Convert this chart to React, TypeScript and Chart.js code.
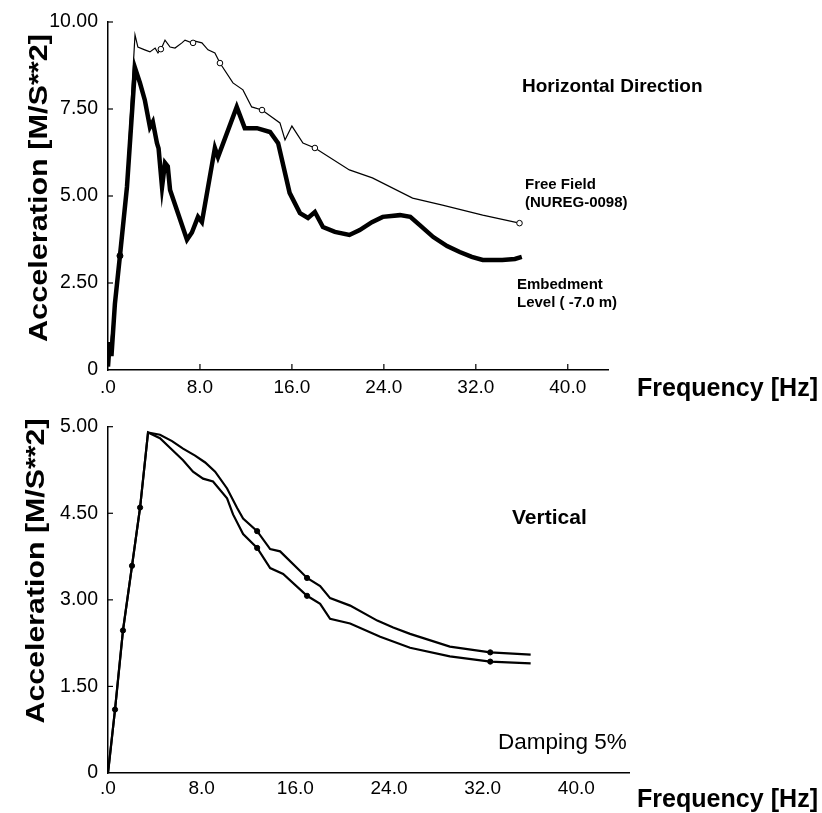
import React, { useEffect, useRef } from "react";
import { Chart, registerables } from "chart.js";

Chart.register(...registerables);

// ---------- tick definitions ----------
const xTicks = [0, 8, 16, 24, 32, 40];
const xTickLabels = [".0", "8.0", "16.0", "24.0", "32.0", "40.0"];
const topYTicks = [0, 2.5, 5, 7.5, 10];
const topYTickLabels = ["0", "2.50", "5.00", "7.50", "10.00"];
const bottomYTicks = [0, 1.5, 3, 4.5, 6];
const bottomYTickLabels = ["0", "1.50", "3.00", "4.50", "5.00"];

// ---------- top chart: horizontal direction ----------
const freeFieldHz = [0, 0.6, 1.04, 1.6, 2.35, 2.6, 3.2, 3.65, 4.1, 4.35, 4.7, 4.96, 5.4, 5.83, 6.43, 6.7, 7.3, 7.57, 8.17, 8.7, 9.3, 9.74, 10.87, 11.74, 12.5, 13.4, 14.96, 15.4, 16.0, 16.96, 18.0, 21.0, 23.0, 26.5, 29.1, 32.6, 35.8];
const freeFieldAcc = [0.1, 1.9, 3.28, 5.3, 9.63, 9.28, 9.2, 9.14, 9.25, 9.11, 9.28, 9.48, 9.28, 9.25, 9.4, 9.48, 9.4, 9.45, 9.4, 9.2, 9.11, 8.82, 8.25, 8.05, 7.56, 7.47, 7.1, 6.61, 7.01, 6.52, 6.38, 5.75, 5.52, 4.94, 4.74, 4.45, 4.22];
const freeFieldMarkHz = [4.6, 7.4, 9.74, 13.4, 18.0, 35.8];
const freeFieldMarkAcc = [9.22, 9.4, 8.82, 7.47, 6.38, 4.22];

const embedHz = [0, 0.15, 0.3, 0.6, 1.04, 1.65, 2.35, 2.78, 3.2, 3.65, 3.9, 4.26, 4.4, 4.7, 4.96, 5.2, 5.4, 6.87, 7.3, 7.83, 8.17, 9.3, 9.57, 11.2, 11.9, 12.96, 14.1, 14.8, 15.8, 16.7, 17.4, 18.0, 18.7, 19.74, 21.0, 21.9, 22.96, 23.9, 25.4, 26.3, 27.1, 28.3, 29.5, 30.6, 31.65, 32.6, 34.3, 35.4, 36.0];
const embedAcc = [0.1, 0.8, 0.4, 1.9, 3.28, 5.26, 8.68, 8.25, 7.76, 6.98, 7.13, 6.52, 6.37, 5.26, 5.95, 5.85, 5.17, 3.74, 3.95, 4.4, 4.25, 6.38, 6.12, 7.56, 6.95, 6.95, 6.84, 6.52, 5.09, 4.51, 4.37, 4.54, 4.11, 3.97, 3.88, 4.02, 4.25, 4.4, 4.45, 4.4, 4.17, 3.82, 3.56, 3.39, 3.25, 3.16, 3.16, 3.19, 3.25];
const embedMarkHz = [1.04];
const embedMarkAcc = [3.28];

// ---------- bottom chart: vertical ----------
const upperHz = [0, 0.6, 1.28, 2.05, 2.74, 3.42, 4.44, 5.47, 6.41, 7.44, 8.3, 9.15, 10.17, 11.03, 11.54, 12.74, 13.85, 14.7, 16.41, 17.0, 18.12, 18.97, 20.68, 23.0, 24.36, 25.8, 29.2, 32.65, 36.1];
const upperAcc = [0, 1.1, 2.47, 3.59, 4.6, 5.9, 5.86, 5.75, 5.62, 5.5, 5.38, 5.22, 4.93, 4.59, 4.41, 4.19, 3.88, 3.84, 3.5, 3.38, 3.24, 3.03, 2.9, 2.64, 2.52, 2.41, 2.19, 2.09, 2.05];
const lowerHz = [0, 0.6, 1.28, 2.05, 2.74, 3.42, 4.44, 5.47, 6.41, 7.26, 8.12, 8.97, 10.17, 10.68, 11.54, 12.74, 13.85, 14.96, 17.0, 18.12, 18.97, 20.68, 23.25, 25.8, 29.2, 32.65, 36.1];
const lowerAcc = [0, 1.1, 2.47, 3.59, 4.6, 5.9, 5.8, 5.6, 5.42, 5.22, 5.1, 5.05, 4.76, 4.48, 4.14, 3.9, 3.55, 3.45, 3.07, 2.93, 2.67, 2.59, 2.36, 2.17, 2.02, 1.93, 1.9];
const vertMarkHz = [0.6, 1.28, 2.05, 2.74, 12.74, 17.0, 32.65, 12.74, 17.0, 32.65];
const vertMarkAcc = [1.1, 2.47, 3.59, 4.6, 4.19, 3.38, 2.09, 3.9, 3.07, 1.93];

const FONT = '"Liberation Sans", Arial, Helvetica, sans-serif';

const pts = (xs: number[], ys: number[]) => xs.map((x, i) => ({ x, y: ys[i] }));

type TextItem = { text: string; x: number; y: number; font: string; rotate?: boolean; width?: number };

function decorPlugin(texts: TextItem[], yTicks: number[], drawXTickMarks: boolean) {
  return {
    id: "decor",
    afterDraw(chart: any) {
      const ctx = chart.ctx as CanvasRenderingContext2D;
      const { left, bottom } = chart.chartArea;
      const xs = chart.scales.x;
      const ys = chart.scales.y;
      ctx.save();
      ctx.strokeStyle = "#000";
      ctx.lineWidth = 1.2;
      if (drawXTickMarks) {
        for (const v of xTicks) {
          if (v === 0) continue;
          const px = xs.getPixelForValue(v);
          ctx.beginPath();
          ctx.moveTo(px, bottom);
          ctx.lineTo(px, bottom - 6);
          ctx.stroke();
        }
      }
      for (const v of yTicks) {
        if (v === 0) continue;
        const py = ys.getPixelForValue(v);
        ctx.beginPath();
        ctx.moveTo(left, py);
        ctx.lineTo(left + 5, py);
        ctx.stroke();
      }
      ctx.fillStyle = "#000";
      ctx.textBaseline = "middle";
      for (const t of texts) {
        ctx.font = t.font;
        const w = ctx.measureText(t.text).width;
        const sx = t.width ? t.width / w : 1;
        ctx.save();
        ctx.translate(t.x, t.y);
        if (t.rotate) {
          ctx.rotate(-Math.PI / 2);
          ctx.scale(sx, 1);
          ctx.textAlign = "center";
        } else {
          ctx.scale(sx, 1);
          ctx.textAlign = "left";
        }
        ctx.fillText(t.text, 0, 0);
        ctx.restore();
      }
      ctx.restore();
    },
  };
}

function makeOptions(opts: {
  xMax: number;
  yMax: number;
  yTicks: number[];
  yLabels: string[];
  padding: { left: number; right: number; top: number; bottom: number };
  xHeight: number;
  xPad: number;
}) {
  return {
    responsive: false,
    maintainAspectRatio: false,
    animation: false as const,
    devicePixelRatio: 1,
    layout: { padding: opts.padding },
    plugins: { legend: { display: false }, tooltip: { enabled: false } },
    scales: {
      x: {
        type: "linear" as const,
        min: 0,
        max: opts.xMax,
        afterBuildTicks: (s: any) => {
          s.ticks = xTicks.map((v) => ({ value: v }));
        },
        afterFit: (s: any) => {
          s.height = opts.xHeight;
        },
        grid: { display: false, drawTicks: false },
        border: { display: true, color: "#000", width: 1.5 },
        ticks: {
          color: "#000",
          font: { family: FONT, size: 19 },
          padding: opts.xPad,
          maxRotation: 0,
          autoSkip: false,
          callback: (v: any) => {
            const i = xTicks.indexOf(Number(v));
            return i >= 0 ? xTickLabels[i] : "";
          },
        },
      },
      y: {
        type: "linear" as const,
        min: 0,
        max: opts.yMax,
        afterBuildTicks: (s: any) => {
          s.ticks = opts.yTicks.map((v) => ({ value: v }));
        },
        afterFit: (s: any) => {
          s.width = 108;
        },
        grid: { display: false, drawTicks: false },
        border: { display: true, color: "#000", width: 1.5 },
        ticks: {
          color: "#000",
          font: { family: FONT, size: 19.5 },
          padding: 10,
          autoSkip: false,
          callback: (v: any) => {
            const i = opts.yTicks.indexOf(Number(v));
            return i >= 0 ? opts.yLabels[i] : "";
          },
        },
      },
    },
  };
}

function TopChart() {
  const ref = useRef<HTMLCanvasElement | null>(null);
  useEffect(() => {
    if (!ref.current) return;
    const texts: TextItem[] = [
      { text: "Acceleration [M/S**2]", x: 40, y: 188, font: `bold 26px ${FONT}`, rotate: true, width: 308 },
      { text: "Frequency [Hz]", x: 637, y: 389, font: `bold 25px ${FONT}`, width: 181 },
      { text: "Horizontal Direction", x: 522, y: 87, font: `bold 19px ${FONT}` },
      { text: "Free Field", x: 525, y: 185, font: `bold 15px ${FONT}` },
      { text: "(NUREG-0098)", x: 525, y: 203, font: `bold 15px ${FONT}` },
      { text: "Embedment", x: 517, y: 285, font: `bold 15px ${FONT}` },
      { text: "Level ( -7.0 m)", x: 517, y: 303, font: `bold 15px ${FONT}` },
    ];
    const chart = new Chart(ref.current, {
      type: "line",
      data: {
        datasets: [
          {
            label: "Embedment Level (-7.0 m)",
            data: pts(embedHz, embedAcc),
            borderColor: "#000",
            borderWidth: 4.5,
            pointRadius: 0,
            tension: 0,
            fill: false,
          },
          {
            label: "Embedment markers",
            data: pts(embedMarkHz, embedMarkAcc),
            showLine: false,
            pointRadius: 3,
            pointBackgroundColor: "#000",
            pointBorderColor: "#000",
          },
          {
            label: "Free Field markers",
            data: pts(freeFieldMarkHz, freeFieldMarkAcc),
            showLine: false,
            pointRadius: 2.8,
            pointBorderWidth: 1,
            pointBackgroundColor: "#fff",
            pointBorderColor: "#000",
          },
          {
            label: "Free Field (NUREG-0098)",
            data: pts(freeFieldHz, freeFieldAcc),
            borderColor: "#000",
            borderWidth: 1.2,
            pointRadius: 0,
            tension: 0,
            fill: false,
          },
        ],
      },
      options: makeOptions({
        xMax: 43.5,
        yMax: 10,
        yTicks: topYTicks,
        yLabels: topYTickLabels,
        padding: { left: 0, right: 214, top: 22, bottom: 0 },
        xHeight: 35,
        xPad: 6,
      }) as any,
      plugins: [decorPlugin(texts, topYTicks, true)],
    });
    return () => chart.destroy();
  }, []);
  return (
    <canvas
      ref={ref}
      width={822}
      height={405}
      style={{ position: "absolute", left: 0, top: 0, width: 822, height: 405 }}
    />
  );
}

function BottomChart() {
  const ref = useRef<HTMLCanvasElement | null>(null);
  useEffect(() => {
    if (!ref.current) return;
    const texts: TextItem[] = [
      { text: "Acceleration [M/S**2]", x: 37, y: 166, font: `bold 26px ${FONT}`, rotate: true, width: 305 },
      { text: "Frequency [Hz]", x: 637, y: 395, font: `bold 25px ${FONT}`, width: 181 },
      { text: "Vertical", x: 512, y: 113, font: `bold 21px ${FONT}` },
      { text: "Damping 5%", x: 498, y: 338, font: `22.5px ${FONT}` },
    ];
    const chart = new Chart(ref.current, {
      type: "line",
      data: {
        datasets: [
          {
            label: "Markers",
            data: pts(vertMarkHz, vertMarkAcc),
            showLine: false,
            pointRadius: 2.6,
            pointBackgroundColor: "#000",
            pointBorderColor: "#000",
          },
          {
            label: "Upper",
            data: pts(upperHz, upperAcc),
            borderColor: "#000",
            borderWidth: 2.2,
            pointRadius: 0,
            tension: 0,
            fill: false,
          },
          {
            label: "Lower",
            data: pts(lowerHz, lowerAcc),
            borderColor: "#000",
            borderWidth: 2.2,
            pointRadius: 0,
            tension: 0,
            fill: false,
          },
        ],
      },
      options: makeOptions({
        xMax: 44.5,
        yMax: 6,
        yTicks: bottomYTicks,
        yLabels: bottomYTickLabels,
        padding: { left: 0, right: 193, top: 21, bottom: 0 },
        xHeight: 40,
        xPad: 4,
      }) as any,
      plugins: [decorPlugin(texts, bottomYTicks, false)],
    });
    return () => chart.destroy();
  }, []);
  return (
    <canvas
      ref={ref}
      width={822}
      height={408}
      style={{ position: "absolute", left: 0, top: 405, width: 822, height: 408 }}
    />
  );
}

export default function App() {
  return (
    <div
      style={{
        position: "fixed",
        left: 0,
        top: 0,
        width: 822,
        height: 813,
        background: "#fff",
        overflow: "hidden",
      }}
    >
      <TopChart />
      <BottomChart />
    </div>
  );
}
